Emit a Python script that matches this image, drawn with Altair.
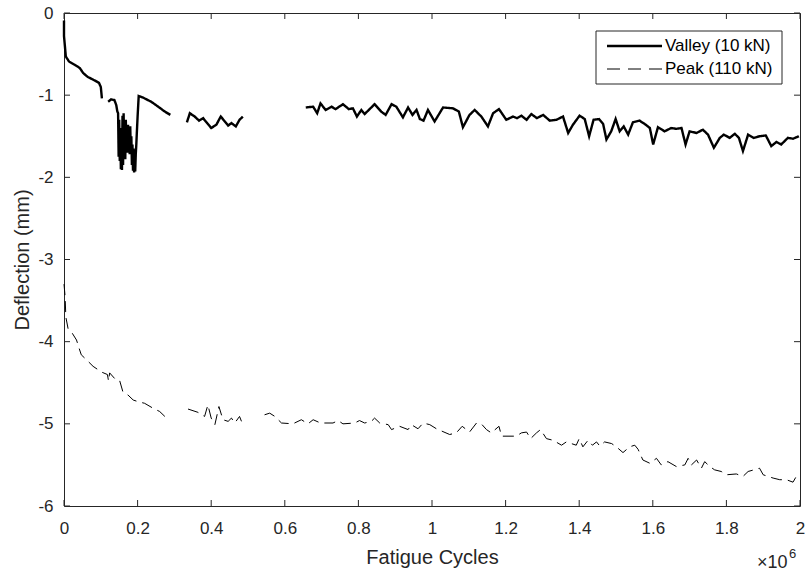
import altair as alt
import pandas as pd

# ---------------- data (x in millions of cycles, y in mm) ----------------
valley_x1 = [0.000, 0.000, 0.005, 0.0136, 0.029, 0.043, 0.052, 0.065, 0.079, 0.095, 0.100, 0.103]
valley_y1 = [-0.09, -0.28, -0.53, -0.59, -0.63, -0.67, -0.73, -0.78, -0.81, -0.85, -0.90, -1.04]

valley_x2 = [0.120, 0.128, 0.137, 0.142, 0.145,
             0.147, 0.1485, 0.150, 0.1515, 0.153, 0.1545, 0.156, 0.1575, 0.159, 0.1605,
             0.162, 0.1635, 0.165, 0.1665, 0.168, 0.1695, 0.171, 0.1725, 0.174, 0.1755,
             0.177, 0.1785, 0.180, 0.1815, 0.183, 0.1845, 0.186, 0.1875, 0.189, 0.1905,
             0.192, 0.1935, 0.195, 0.1965, 0.198,
             0.200, 0.203, 0.215, 0.237, 0.256, 0.274, 0.289]
valley_y2 = [-1.08, -1.05, -1.06, -1.12, -1.20,
             -1.22, -1.75, -1.30, -1.80, -1.45, -1.90, -1.40, -1.91, -1.25, -1.85,
             -1.22, -1.70, -1.35, -1.78, -1.30, -1.62, -1.38, -1.70, -1.36, -1.65,
             -1.40, -1.72, -1.38, -1.68, -1.50, -1.85, -1.60, -1.92, -1.65, -1.94,
             -1.70, -1.93, -1.72, -1.60, -1.45,
             -1.26, -1.01, -1.03, -1.08, -1.14, -1.20, -1.24]

valley_x3 = [0.334, 0.342, 0.355, 0.367, 0.378, 0.400, 0.414, 0.426, 0.437, 0.446, 0.455, 0.467,
             0.477, 0.486]
valley_y3 = [-1.33, -1.22, -1.26, -1.31, -1.28, -1.40, -1.36, -1.26, -1.32, -1.37, -1.34, -1.38,
             -1.30, -1.26]

valley_x4 = [0.657, 0.677, 0.688, 0.697, 0.711, 0.727, 0.738, 0.758, 0.774, 0.785, 0.796, 0.808,
             0.817, 0.844, 0.862, 0.874, 0.890, 0.903, 0.921, 0.935, 0.947, 0.958, 0.967, 0.977,
             0.989, 1.007, 1.030, 1.057, 1.073, 1.084, 1.102, 1.116, 1.134, 1.152, 1.166, 1.182,
             1.202, 1.220, 1.231, 1.243, 1.257, 1.270, 1.285, 1.302, 1.320, 1.338, 1.356, 1.370,
             1.383, 1.401, 1.415, 1.427, 1.439, 1.454, 1.465, 1.474, 1.487, 1.499, 1.510, 1.521,
             1.533, 1.546, 1.564, 1.581, 1.592, 1.601, 1.614, 1.632, 1.650, 1.664, 1.678, 1.689,
             1.700, 1.719, 1.736, 1.750, 1.766, 1.782, 1.793, 1.809, 1.823, 1.834, 1.845, 1.859,
             1.874, 1.890, 1.907, 1.922, 1.936, 1.949, 1.967, 1.981, 1.997]
valley_y4 = [-1.15, -1.14, -1.22, -1.10, -1.18, -1.14, -1.17, -1.11, -1.17, -1.16, -1.26, -1.18,
             -1.23, -1.11, -1.20, -1.24, -1.11, -1.14, -1.27, -1.15, -1.24, -1.18, -1.29, -1.31,
             -1.18, -1.32, -1.15, -1.16, -1.20, -1.39, -1.24, -1.18, -1.26, -1.38, -1.22, -1.17,
             -1.30, -1.26, -1.28, -1.25, -1.30, -1.23, -1.28, -1.24, -1.31, -1.30, -1.26, -1.46,
             -1.36, -1.25, -1.29, -1.50, -1.30, -1.29, -1.35, -1.54, -1.44, -1.29, -1.44, -1.38,
             -1.48, -1.33, -1.31, -1.36, -1.40, -1.60, -1.39, -1.44, -1.40, -1.41, -1.40, -1.60,
             -1.44, -1.46, -1.42, -1.48, -1.64, -1.52, -1.48, -1.52, -1.47, -1.52, -1.68, -1.48,
             -1.52, -1.50, -1.49, -1.62, -1.57, -1.60, -1.52, -1.53, -1.50]

peak_x1 = [0.000, 0.003, 0.005, 0.011, 0.020, 0.034, 0.041, 0.047, 0.061, 0.079, 0.102, 0.118,
           0.121, 0.124, 0.138, 0.151, 0.160, 0.174, 0.188, 0.201, 0.219, 0.242, 0.260, 0.274]
peak_y1 = [-3.30, -3.45, -3.70, -3.84, -3.88, -3.98, -4.08, -4.16, -4.22, -4.30, -4.37, -4.40,
           -4.48, -4.38, -4.45, -4.47, -4.61, -4.65, -4.71, -4.73, -4.75, -4.81, -4.85, -4.91]

peak_x2 = [0.337, 0.364, 0.382, 0.391, 0.400, 0.410, 0.421, 0.432, 0.446, 0.455, 0.464, 0.477, 0.485]
peak_y2 = [-4.82, -4.86, -4.91, -4.77, -4.93, -5.01, -4.79, -4.95, -4.97, -4.93, -4.99, -4.91, -5.00]

peak_x3 = [0.545, 0.559, 0.573, 0.591, 0.622, 0.645, 0.663, 0.677, 0.697, 0.731, 0.745, 0.758,
           0.790, 0.803, 0.817, 0.835, 0.844, 0.858, 0.881, 0.890, 0.912, 0.935, 0.944, 0.962,
           0.976, 0.994, 1.012, 1.048, 1.066, 1.082, 1.102, 1.121, 1.134, 1.148, 1.161, 1.182,
           1.189, 1.229, 1.243, 1.257, 1.268, 1.284, 1.295, 1.311, 1.329, 1.352, 1.365, 1.392,
           1.400, 1.410, 1.424, 1.436, 1.447, 1.456, 1.469, 1.488, 1.501, 1.519, 1.537, 1.551,
           1.560, 1.573, 1.592, 1.610, 1.623, 1.641, 1.664, 1.687, 1.696, 1.705, 1.719, 1.732,
           1.741, 1.755, 1.768, 1.786, 1.800, 1.827, 1.845, 1.859, 1.890, 1.900, 1.913, 1.927,
           1.945, 1.963, 1.981, 1.995]
peak_y3 = [-4.89, -4.87, -4.91, -4.99, -5.00, -4.95, -5.00, -4.95, -4.99, -4.99, -4.96, -5.00,
           -4.99, -4.96, -4.99, -4.97, -4.93, -4.99, -5.01, -5.07, -5.03, -5.07, -5.01, -5.06,
           -4.99, -5.01, -5.06, -5.13, -5.11, -5.03, -5.10, -4.99, -5.00, -5.07, -5.11, -5.03,
           -5.15, -5.15, -5.11, -5.10, -5.18, -5.11, -5.07, -5.18, -5.20, -5.26, -5.22, -5.26,
           -5.18, -5.28, -5.20, -5.26, -5.22, -5.27, -5.22, -5.24, -5.28, -5.35, -5.28, -5.26,
           -5.31, -5.44, -5.48, -5.42, -5.50, -5.46, -5.52, -5.50, -5.42, -5.50, -5.44, -5.54,
           -5.46, -5.52, -5.56, -5.58, -5.62, -5.61, -5.64, -5.58, -5.54, -5.62, -5.64, -5.66,
           -5.68, -5.68, -5.71, -5.60]

series_names = ["Valley (10 kN)", "Peak (110 kN)"]
x_ticks = [0, 0.2, 0.4, 0.6, 0.8, 1, 1.2, 1.4, 1.6, 1.8, 2]
y_ticks = [-6, -5, -4, -3, -2, -1, 0]

# ---------------- build table ----------------
rows = []
def add(xs, ys, series, seg):
    for k, (a, b) in enumerate(zip(xs, ys)):
        rows.append({"x": a, "y": b, "series": series, "seg": seg, "i": k})

add(valley_x1, valley_y1, series_names[0], "v1")
add(valley_x2, valley_y2, series_names[0], "v2")
add(valley_x3, valley_y3, series_names[0], "v3")
add(valley_x4, valley_y4, series_names[0], "v4")
add(peak_x1, peak_y1, series_names[1], "p1")
add(peak_x2, peak_y2, series_names[1], "p2")
add(peak_x3, peak_y3, series_names[1], "p3")
df = pd.DataFrame(rows)

W, H = 736, 493
FONT = "Liberation Sans"
AX = "#262626"
DASH = [11, 6]
TICK = 6

xscale = alt.Scale(domain=[0, 2], nice=False, zero=False)
yscale = alt.Scale(domain=[-6, 0], nice=False, zero=False)

x_axis = alt.Axis(
    orient="bottom", values=x_ticks, labelExpr="'' + datum.value", ticks=False,
    domain=False, grid=False, labelFontSize=17, labelPadding=14, labelFlush=False,
    labelColor=AX, labelFont=FONT, title="Fatigue Cycles", titleFontSize=20,
    titleFontWeight="normal", titleColor=AX, titleFont=FONT, titleY=57,
    titleBaseline="alphabetic")
y_axis = alt.Axis(
    orient="left", values=y_ticks, labelExpr="'' + datum.value", ticks=False,
    domain=False, grid=False, labelFontSize=17, labelPadding=11, labelFlush=False,
    labelColor=AX, labelFont=FONT, title="Deflection (mm)", titleFontSize=20,
    titleFontWeight="normal", titleColor=AX, titleFont=FONT, titleX=-36,
    titleBaseline="alphabetic")

lines = alt.Chart(df).mark_line(color="black").encode(
    x=alt.X("x:Q", scale=xscale, axis=x_axis),
    y=alt.Y("y:Q", scale=yscale, axis=y_axis),
    strokeDash=alt.StrokeDash("series:N", scale=alt.Scale(domain=series_names, range=[[1, 0], DASH]),
                              legend=None),
    strokeWidth=alt.StrokeWidth("series:N", scale=alt.Scale(domain=series_names, range=[2.4, 1.0]),
                                legend=None),
    detail="seg:N",
    order="i:Q",
)

# inward tick marks on all four sides (MATLAB box style)
xt = pd.DataFrame({"x": x_ticks})
yt = pd.DataFrame({"y": y_ticks})
tick_bottom = alt.Chart(xt).mark_rule(color=AX, strokeWidth=1).encode(
    x=alt.X("x:Q", scale=xscale, axis=x_axis), y=alt.value(H - TICK), y2=alt.value(H))
tick_top = alt.Chart(xt).mark_rule(color=AX, strokeWidth=1).encode(
    x=alt.X("x:Q", scale=xscale, axis=x_axis), y=alt.value(0), y2=alt.value(TICK))
tick_left = alt.Chart(yt).mark_rule(color=AX, strokeWidth=1).encode(
    y=alt.Y("y:Q", scale=yscale, axis=y_axis), x=alt.value(0), x2=alt.value(TICK))
tick_right = alt.Chart(yt).mark_rule(color=AX, strokeWidth=1).encode(
    y=alt.Y("y:Q", scale=yscale, axis=y_axis), x=alt.value(W - TICK), x2=alt.value(W))

# legend box (drawn by hand, MATLAB style)
one = pd.DataFrame({"k": [0]})
leg_box = alt.Chart(one).mark_rect(fill="white", stroke=AX, strokeWidth=1).encode(
    x=alt.value(532), x2=alt.value(718), y=alt.value(18), y2=alt.value(71))
leg_v = alt.Chart(one).mark_rule(color="black", strokeWidth=2.4).encode(
    x=alt.value(543), x2=alt.value(598), y=alt.value(33))
leg_p = alt.Chart(one).mark_rule(color="black", strokeWidth=1.0, strokeDash=[13, 8]).encode(
    x=alt.value(543), x2=alt.value(598), y=alt.value(56))
leg_tv = alt.Chart(pd.DataFrame({"t": [series_names[0]]})).mark_text(
    font=FONT, fontSize=17, color="black", align="left", baseline="middle").encode(
    x=alt.value(601), y=alt.value(33), text="t:N")
leg_tp = alt.Chart(pd.DataFrame({"t": [series_names[1]]})).mark_text(
    font=FONT, fontSize=17, color="black", align="left", baseline="middle").encode(
    x=alt.value(601), y=alt.value(56), text="t:N")

exp_base = alt.Chart(pd.DataFrame({"t": ["×10"]})).mark_text(
    font=FONT, fontSize=18, color=AX, align="left", baseline="alphabetic"
).encode(x=alt.value(693), y=alt.value(555), text="t:N")
exp_sup = alt.Chart(pd.DataFrame({"t": ["6"]})).mark_text(
    font=FONT, fontSize=13, color=AX, align="left", baseline="alphabetic"
).encode(x=alt.value(725), y=alt.value(545), text="t:N")

chart = alt.layer(
    lines, tick_bottom, tick_top, tick_left, tick_right,
    leg_box, leg_v, leg_p, leg_tv, leg_tp, exp_base, exp_sup
).properties(
    width=W, height=H,
    autosize=alt.AutoSizeParams(type="none"),
    padding={"left": 64, "top": 13, "right": 6, "bottom": 65},
    background="white",
).configure_view(stroke=AX, strokeWidth=1)

chart.save("out.html", embed_options={"renderer": "svg", "actions": False})
